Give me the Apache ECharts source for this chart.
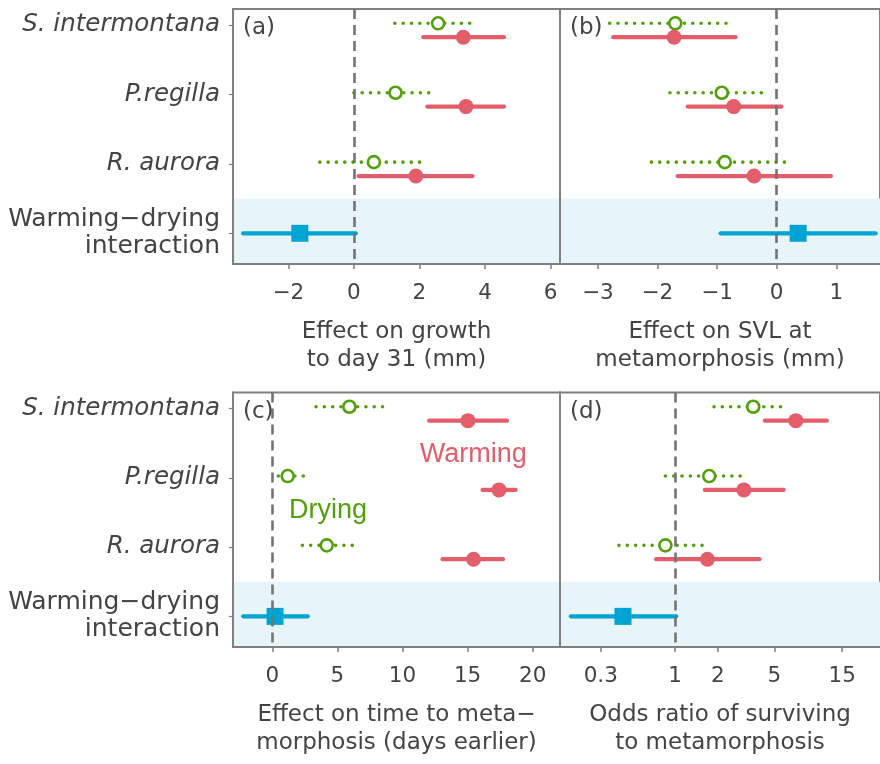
<!DOCTYPE html>
<html><head><meta charset="utf-8">
<script src="https://cdn.jsdelivr.net/npm/echarts@6/dist/echarts.min.js"></script>
<style>html,body{margin:0;padding:0;background:#fff}#c{width:880px;height:764px}</style>
</head><body><div id="c"></div>
<script>
// ---- data ----
const rowNames = ['S. intermontana', 'P.regilla', 'R. aurora', 'Warming\u2212drying interaction'];
// [estimate, lower, upper] per species (S. intermontana, P.regilla, R. aurora)
const growthDrying = [[2.57, 1.25, 3.73], [1.27, 0.0, 2.44], [0.61, -1.04, 2.20]];
const growthWarming = [[3.34, 2.12, 4.58], [3.42, 2.24, 4.58], [1.89, 0.14, 3.62]];
const growthInteraction = [-1.65, -3.38, 0.06];
const svlDrying = [[-1.70, -2.80, -0.73], [-0.92, -1.79, -0.16], [-0.87, -2.10, 0.26]];
const svlWarming = [[-1.72, -2.74, -0.69], [-0.72, -1.49, 0.08], [-0.38, -1.66, 0.91]];
const svlInteraction = [0.36, -0.94, 1.66];
const timeDrying = [[5.92, 3.36, 8.85], [1.18, 0.46, 2.59], [4.18, 2.31, 6.49]];
const timeWarming = [[15.03, 12.05, 18.03], [17.41, 16.15, 18.69], [15.46, 13.08, 17.72]];
const timeInteraction = [0.21, -2.23, 2.72];
const survDrying = [[3.55, 1.88, 6.03], [1.74, 0.855, 3.14], [0.855, 0.403, 1.71]];
const survWarming = [[7.08, 4.28, 11.7], [3.05, 1.62, 5.81], [1.69, 0.736, 3.93]];
const survInteraction = [0.43, 0.185, 1.02];
const growthTicks = [-2, 0, 2, 4, 6];
const svlTicks = [-3, -2, -1, 0, 1];
const timeTicks = [0, 5, 10, 15, 20];
const survTicks = [0.3, 1, 2, 5, 15];
const axisTitles = ['Effect on growth\nto day 31 (mm)', 'Effect on SVL at\nmetamorphosis (mm)',
  'Effect on time to meta\u2212\nmorphosis (days earlier)', 'Odds ratio of surviving\nto metamorphosis'];
const panelTags = ['(a)', '(b)', '(c)', '(d)'];
const annotations = [{ text: 'Warming', x: 15.44, y: 1.66, series: 'warming' }, { text: 'Drying', x: 4.28, y: 2.47, series: 'drying' }];

// ---- styles ----
const FONT = 'DejaVu Sans';
const GREY = '#808080';
const TXT = '#444444';
const RED = '#e35d6a';
const GREEN = '#52a00a';
const BLUE = '#00a4d3';
const BAND = '#e7f5fa';
const Y_MIN = 0.769, Y_MAX = 4.442;
const DRY_OFF = -0.025, WARM_OFF = 0.175;

const grids = [
  { left: 233, top: 9, width: 327, height: 255 },
  { left: 560, top: 9, width: 322, height: 255 },
  { left: 233, top: 392.5, width: 327, height: 254.5 },
  { left: 560, top: 392.5, width: 322, height: 254.5 }
];
const xCfg = [
  { type: 'value', min: -3.69, max: 6.29, ticks: growthTicks },
  { type: 'value', min: -3.633, max: 1.733, ticks: svlTicks },
  { type: 'value', min: -3.02, max: 22.1, ticks: timeTicks },
  { type: 'log', min: 0.155, max: 27.7, ticks: survTicks }
];
const panels = [
  [growthDrying, growthWarming, growthInteraction, 0],
  [svlDrying, svlWarming, svlInteraction, 0],
  [timeDrying, timeWarming, timeInteraction, 0],
  [survDrying, survWarming, survInteraction, 1]
];

function fmtTick(v, ticks) {
  let best = ticks[0];
  ticks.forEach(t => { if (Math.abs(t - v) < Math.abs(best - v)) best = t; });
  return best < 0 ? '\u2212' + Math.abs(best) : String(best);
}

function ciSeries(i, rows, color, dashed, z) {
  return {
    type: 'custom', xAxisIndex: i, yAxisIndex: i, z: z, silent: true,
    data: rows,
    encode: { x: [0, 1], y: 2 },
    renderItem: function (params, api) {
      const p1 = api.coord([api.value(0), api.value(2)]);
      const p2 = api.coord([api.value(1), api.value(2)]);
      return {
        type: 'line',
        shape: { x1: p1[0], y1: p1[1], x2: p2[0], y2: p2[1] },
        style: dashed ? { stroke: color, lineWidth: 3.6, lineDash: [0.01, 8.3], lineCap: 'round' }
                      : { stroke: color, lineWidth: 4.2, lineCap: 'round' }
      };
    }
  };
}

const xAxes = [], yAxes = [], series = [], titles = [];
grids.forEach((g, i) => {
  const c = xCfg[i];
  xAxes.push({
    gridIndex: i, type: c.type, min: c.min, max: c.max, logBase: 10, z: 10,
    name: axisTitles[i], nameLocation: 'middle', nameGap: 54,
    nameTextStyle: { fontFamily: FONT, fontSize: 23, lineHeight: 28, color: TXT },
    axisLine: { show: true, onZero: false, lineStyle: { color: GREY, width: 2 } },
    axisTick: { show: true, length: 5, customValues: c.ticks, lineStyle: { color: GREY, width: 1.5 } },
    axisLabel: { show: true, customValues: c.ticks, margin: 18, fontFamily: FONT, fontSize: 21.5, color: TXT,
      formatter: v => fmtTick(v, c.ticks) },
    splitLine: { show: false }, minorTick: { show: false }
  });
  const showY = (i === 0 || i === 2);
  yAxes.push({
    gridIndex: i, type: 'value', inverse: true, min: Y_MIN, max: Y_MAX, z: 10,
    axisLine: { show: true, onZero: false, lineStyle: { color: GREY, width: 2 } },
    axisTick: { show: showY, length: 4, customValues: [1, 2, 3, 4], lineStyle: { color: GREY, width: 1.2 } },
    axisLabel: {
      show: showY, customValues: [1, 2, 3, 4], margin: 13, align: 'right',
      formatter: v => {
        const k = Math.round(v) - 1;
        if (k === 3) return '{n|Warming\u2212drying}\n{n|interaction}';
        return '{it|' + rowNames[k] + '}';
      },
      rich: {
        it: { fontFamily: FONT, fontStyle: 'italic', fontSize: 24.5, color: TXT, align: 'right' },
        n: { fontFamily: FONT, fontSize: 25, lineHeight: 27, color: TXT, align: 'right' }
      }
    },
    splitLine: { show: false }
  });
  titles.push({ text: panelTags[i], left: g.left + 5, top: g.top + 3,
    textStyle: { fontFamily: FONT, fontSize: 23, fontWeight: 'normal', color: TXT } });

  const [dry, warm, inter, ref] = panels[i];
  // shaded interaction band
  series.push({ type: 'scatter', xAxisIndex: i, yAxisIndex: i, z: 1, silent: true, symbolSize: 0,
    data: [[ref, 4]],
    markArea: { silent: true, itemStyle: { color: BAND }, data: [[{ yAxis: 3.5 }, { yAxis: Y_MAX }]] } });
  // reference (no effect) line
  series.push({ type: 'scatter', xAxisIndex: i, yAxisIndex: i, z: 2, silent: true, symbolSize: 0,
    data: [[ref, 4]],
    markLine: { silent: true, symbol: ['none', 'none'], label: { show: false },
      lineStyle: { color: '#737373', width: 2.6, type: [10, 6] }, data: [{ xAxis: ref }] } });
  series.push(ciSeries(i, dry.map((d, k) => [d[1], d[2], k + 1 + DRY_OFF]), GREEN, true, 3));
  series.push(ciSeries(i, warm.map((d, k) => [d[1], d[2], k + 1 + WARM_OFF]), RED, false, 3));
  series.push(ciSeries(i, [[inter[1], inter[2], 4]], BLUE, false, 3));
  series.push({ type: 'scatter', xAxisIndex: i, yAxisIndex: i, z: 4, silent: true,
    symbol: 'circle', symbolSize: 12,
    itemStyle: { color: '#ffffff', borderColor: GREEN, borderWidth: 2.6, opacity: 1 },
    data: dry.map((d, k) => [d[0], k + 1 + DRY_OFF]) });
  series.push({ type: 'scatter', xAxisIndex: i, yAxisIndex: i, z: 4, silent: true,
    symbol: 'circle', symbolSize: 15, itemStyle: { color: RED, opacity: 1 },
    data: warm.map((d, k) => [d[0], k + 1 + WARM_OFF]) });
  series.push({ type: 'scatter', xAxisIndex: i, yAxisIndex: i, z: 4, silent: true,
    symbol: 'rect', symbolSize: 17, itemStyle: { color: BLUE, opacity: 1 },
    data: [[inter[0], 4]] });
});

// text annotations in panel (c)
annotations.forEach(a => {
  const col = a.series === 'warming' ? RED : GREEN;
  series.push({ type: 'scatter', xAxisIndex: 2, yAxisIndex: 2, z: 5, silent: true, symbolSize: 1,
    itemStyle: { color: 'rgba(0,0,0,0)', opacity: 1 },
    data: [[a.x, a.y]],
    label: { show: true, position: 'inside', formatter: a.text, fontFamily: 'Liberation Sans', fontSize: 27,
      color: col, opacity: 1 } });
});

const chart = echarts.init(document.getElementById('c'), null, { renderer: 'canvas' });
chart.setOption({
  animation: false,
  backgroundColor: '#ffffff',
  title: titles,
  grid: grids.map(g => Object.assign({ show: true, borderColor: GREY, borderWidth: 2, backgroundColor: 'transparent', containLabel: false }, g)),
  xAxis: xAxes,
  yAxis: yAxes,
  series: series
});
</script></body></html>
